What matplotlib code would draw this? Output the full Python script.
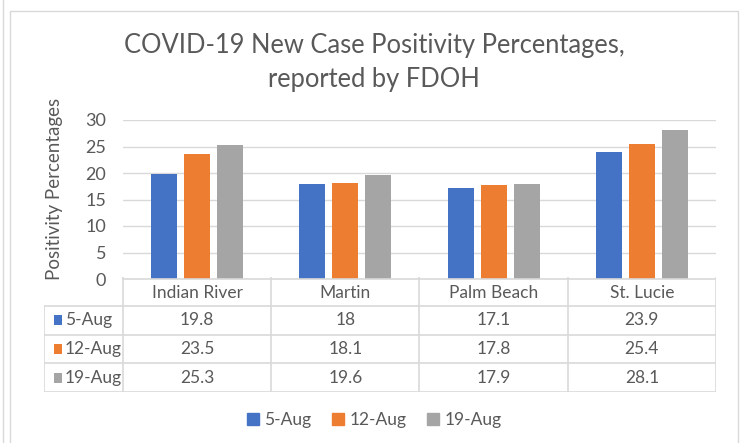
import matplotlib.pyplot as plt
from matplotlib.lines import Line2D
from matplotlib.patches import Rectangle

counties = ['Indian River', 'Martin', 'Palm Beach', 'St. Lucie']
weeks = ['5-Aug', '12-Aug', '19-Aug']
aug5 = [19.8, 18, 17.1, 23.9]
aug12 = [23.5, 18.1, 17.8, 25.4]
aug19 = [25.3, 19.6, 17.9, 28.1]
yticks = [0, 5, 10, 15, 20, 25, 30]

colors = ['#4472C4', '#ED7D31', '#A5A5A5']
txt = '#595959'
grid = '#D9D9D9'
fs = 12.5

plt.rcParams['font.family'] = ['Lato', 'DejaVu Sans']

W, H = 743, 443
fig = plt.figure(figsize=(W / 100, H / 100), dpi=100)


def px_rect(x0, y0, x1, y1):
    # pixel box (top-left origin) -> figure fraction
    return [x0 / W, 1 - y1 / H, (x1 - x0) / W, (y1 - y0) / H]


# frame lines
fig.add_artist(Line2D([3 / W, 3 / W], [0, 1], color=grid, lw=1))
fig.add_artist(Rectangle((10 / W, -0.1), 728 / W, 1 - 11 / H + 0.1,
                         transform=fig.transFigure, fill=False, ec=grid, lw=1))

# bars
ax = fig.add_axes(px_rect(123, 120, 716, 279))
series = [aug5, aug12, aug19]
step = 33 / 148.25
width = 26 / 148.25
for k, vals in enumerate(series):
    xs = [i + 0.5 + (k - 1) * step for i in range(len(counties))]
    ax.bar(xs, vals, width=width, color=colors[k], zorder=3)
ax.set_xlim(0, 4)
ax.set_ylim(0, 30)
ax.set_yticks(yticks)
ax.set_xticks([])
ax.yaxis.grid(True, color=grid, lw=1, zorder=0)
for s in ax.spines.values():
    s.set_visible(False)
ax.tick_params(axis='y', length=0, labelsize=13, labelcolor=txt, pad=12)
ax.set_ylabel('Positivity Percentages', fontsize=13.5, color=txt)
ax.yaxis.set_label_coords(-60 / 593, 0.5 + 10.5 / 159)

# data table
tx = fig.add_axes(px_rect(44, 277, 716, 392))
left = -79 / 148.25
tx.set_xlim(left, 4)
tx.set_ylim(4, 0)
tx.axis('off')
lc = grid
for r in [1, 2, 3, 4]:
    tx.plot([left, 4], [r, r], color=lc, lw=1.2)
tx.plot([0, 4], [0.07, 0.07], color=lc, lw=1.2)
tx.plot([left, left], [1, 4], color=lc, lw=1.2)
for c in range(5):
    tx.plot([c, c], [0, 4], color=lc, lw=1.2)
for i, name in enumerate(counties):
    tx.text(i + 0.5, 0.55, name, ha='center', va='center', fontsize=fs, color=txt)
for k, vals in enumerate(series):
    y = k + 1.5
    tx.add_patch(Rectangle((left + 0.07, y - 0.17), 0.05, 0.34, color=colors[k], lw=0))
    tx.text(left + 0.14, y, weeks[k], ha='left', va='center', fontsize=fs, color=txt)
    for i, v in enumerate(vals):
        tx.text(i + 0.5, y, f'{v:g}', ha='center', va='center', fontsize=fs, color=txt)

# title
fig.text(374 / W, 1 - 45 / H, 'COVID-19 New Case Positivity Percentages,', ha='center',
         va='center', fontsize=18.4, color=txt)
fig.text(374 / W, 1 - 80 / H, 'reported by FDOH', ha='center', va='center',
         fontsize=18.4, color=txt)

# legend
handles = [Rectangle((0, 0), 1, 1, color=c) for c in colors]
fig.legend(handles, weeks, loc='center', bbox_to_anchor=(374 / W, 1 - 420 / H), ncol=3,
           frameon=False, fontsize=fs, labelcolor=txt, handlelength=0.7,
           handleheight=0.7, handletextpad=0.3, columnspacing=1.2)

fig.savefig('out.png', dpi=100)
